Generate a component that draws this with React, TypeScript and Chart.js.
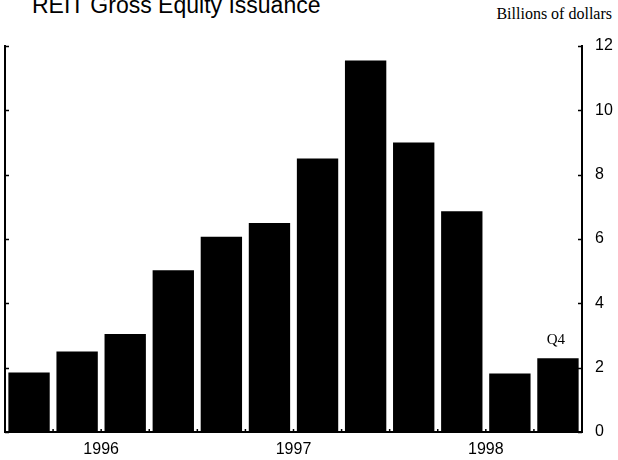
import React, { useEffect, useRef } from "react";
import { Chart, registerables } from "chart.js";

Chart.register(...registerables);

// Quarterly REIT gross equity issuance, billions of dollars
const quarters = [
  "1996 Q1", "1996 Q2", "1996 Q3", "1996 Q4",
  "1997 Q1", "1997 Q2", "1997 Q3", "1997 Q4",
  "1998 Q1", "1998 Q2", "1998 Q3", "1998 Q4",
];
const issuance = [1.85, 2.5, 3.05, 5.03, 6.07, 6.5, 8.5, 11.55, 9.0, 6.86, 1.82, 2.29];
const years = ["1996", "1997", "1998"];
const yTicks = [0, 2, 4, 6, 8, 10, 12];
const lastBarNote = "Q4";

const SANS = "'Liberation Sans', Arial, Helvetica, sans-serif";
const SERIF = "'Liberation Serif', 'Times New Roman', serif";

const innerTicks = {
  id: "innerTicks",
  afterDraw(chart: any) {
    const ctx = chart.ctx;
    const area = chart.chartArea;
    const y = chart.scales.y;
    const x = chart.scales.x;
    ctx.save();
    ctx.strokeStyle = "#000";
    ctx.lineWidth = 1.5;
    ctx.beginPath();
    yTicks.forEach((v) => {
      const py = Math.round(y.getPixelForValue(v)) + 0.5;
      ctx.moveTo(area.left, py);
      ctx.lineTo(area.left + 4, py);
      ctx.moveTo(area.right, py);
      ctx.lineTo(area.right - 4, py);
    });
    for (let i = 0; i < quarters.length - 1; i++) {
      const px = (x.getPixelForValue(i) + x.getPixelForValue(i + 1)) / 2;
      ctx.moveTo(px, area.bottom);
      ctx.lineTo(px, area.bottom - 3);
    }
    ctx.stroke();
    const meta = chart.getDatasetMeta(0);
    const bar = meta.data[meta.data.length - 1];
    if (bar) {
      ctx.fillStyle = "#000";
      ctx.font = `15px ${SERIF}`;
      ctx.textAlign = "center";
      ctx.textBaseline = "alphabetic";
      ctx.fillText(lastBarNote, bar.x - 2, bar.y - 14);
    }
    ctx.restore();
  },
};

export default function App() {
  const canvasRef = useRef<HTMLCanvasElement | null>(null);

  useEffect(() => {
    if (!canvasRef.current) return;
    const chart = new Chart(canvasRef.current, {
      type: "bar",
      data: {
        labels: quarters,
        datasets: [
          {
            data: issuance,
            backgroundColor: "#000",
            borderWidth: 0,
            barPercentage: 0.86,
            categoryPercentage: 1,
            xAxisID: "x",
            yAxisID: "y",
          },
        ],
      },
      options: {
        responsive: false,
        animation: false,
        events: [],
        layout: { padding: { top: 46, left: 5, right: 0, bottom: 0 } },
        plugins: {
          legend: { display: false },
          tooltip: { enabled: false },
          title: { display: false },
        },
        scales: {
          x: {
            type: "category",
            display: false,
            offset: true,
          },
          xYear: {
            type: "linear",
            position: "bottom",
            bounds: "data",
            offset: false,
            min: -0.5,
            max: quarters.length - 0.5,
            afterBuildTicks: (s: any) => {
              s.ticks = years.map((_, i) => ({ value: i * 4 + 1.5 }));
            },
            afterFit: (s: any) => {
              s.height = 28;
            },
            ticks: {
              autoSkip: false,
              maxRotation: 0,
              padding: 8,
              color: "#000",
              font: { family: SANS, size: 16 },
              callback: (_v: any, i: number) => years[i],
            },
            grid: { display: false, drawTicks: false, offset: false },
            border: { display: true, color: "#000", width: 2 },
          },
          y: {
            type: "linear",
            position: "right",
            bounds: "data",
            min: 0,
            max: 12,
            afterBuildTicks: (s: any) => {
              s.ticks = yTicks.map((v) => ({ value: v }));
            },
            afterFit: (s: any) => {
              s.width = 36;
            },
            ticks: {
              padding: 13,
              color: "#000",
              font: { family: SANS, size: 16 },
            },
            grid: { display: false, drawTicks: false },
            border: { display: true, color: "#000", width: 2 },
          },
          yl: {
            type: "linear",
            position: "left",
            min: 0,
            max: 12,
            ticks: { display: false },
            grid: { display: false, drawTicks: false },
            border: { display: true, color: "#000", width: 2 },
          },
        },
      } as any,
      plugins: [innerTicks],
    });
    return () => chart.destroy();
  }, []);

  return (
    <div
      style={{
        position: "absolute",
        left: 0,
        top: 0,
        width: 618,
        height: 460,
        overflow: "hidden",
        background: "#fff",
      }}
    >
      <div
        style={{
          position: "absolute",
          left: 32,
          top: -6,
          fontFamily: SANS,
          fontSize: 23,
          lineHeight: "23px",
          color: "#000",
          whiteSpace: "nowrap",
        }}
      >
        REIT Gross Equity Issuance
      </div>
      <div
        style={{
          position: "absolute",
          right: 6,
          top: 6,
          fontFamily: SERIF,
          fontSize: 16,
          lineHeight: "16px",
          color: "#000",
          whiteSpace: "nowrap",
        }}
      >
        Billions of dollars
      </div>
      <canvas
        ref={canvasRef}
        width={618}
        height={460}
        style={{ position: "absolute", left: 0, top: 0, width: 618, height: 460 }}
      />
    </div>
  );
}
